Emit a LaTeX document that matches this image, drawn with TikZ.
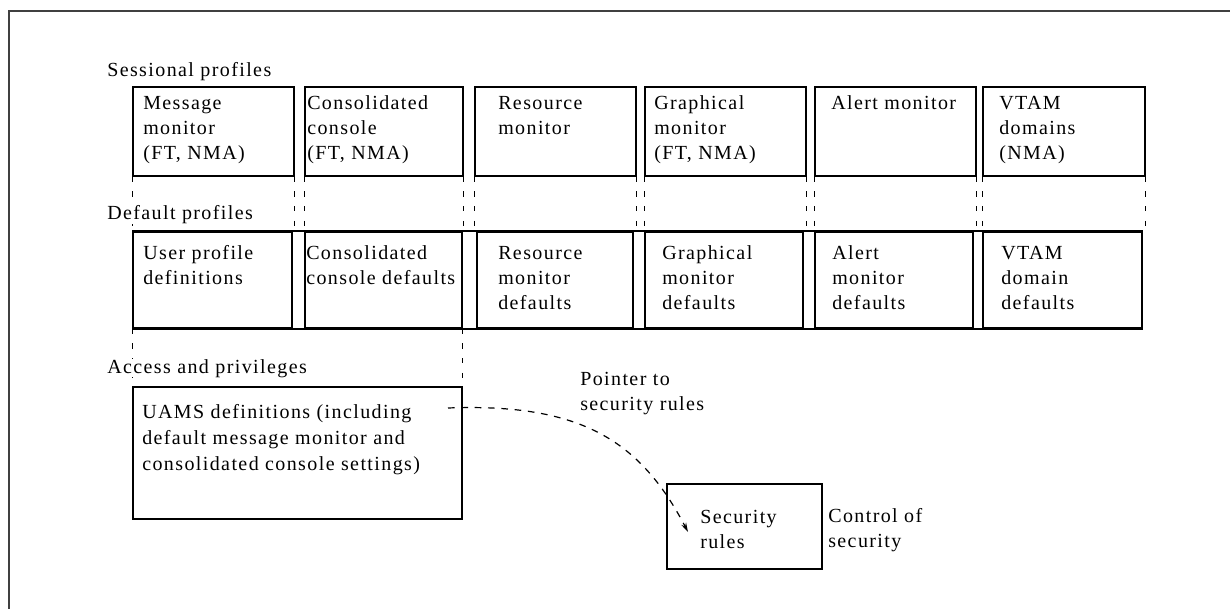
\documentclass[tikz,border=0pt]{standalone}
\usepackage{fontspec}
\setmainfont[LetterSpace=7]{Liberation Serif}
\usetikzlibrary{fit,arrows.meta}
\tikzset{
  box/.style={draw=black, line width=1.2pt, inner sep=0pt},
  txt/.style={inner sep=0pt, anchor=base west, align=left, font=\fontsize{15pt}{18.75pt}\selectfont},
  lbl/.style={txt, fill=white},
  conn/.style={draw=black, line width=0.9pt, dash pattern=on 4pt off 7pt},
  ptr/.style={draw=black, line width=0.9pt, dash pattern=on 5pt off 5pt},
  frame/.style={draw=black!75, line width=1.5pt}
}
\begin{document}
\begin{tikzpicture}[x=0.75pt, y=-0.75pt]
\useasboundingbox (0,0) rectangle (1230,609);
\clip (0,0) rectangle (1230,609);
\fill[white] (0,0) rectangle (1230,609);
\draw[frame] (9,640) -- (9,11) -- (1260,11);

% top row
\node[box, fit={(133,87) (294,176)}] (t1) {};
\node[box, fit={(305,87) (463,176)}] (t2) {};
\node[box, fit={(475,87) (636,176)}] (t3) {};
\node[box, fit={(645,87) (806,176)}] (t4) {};
\node[box, fit={(815,87) (976,176)}] (t5) {};
\node[box, fit={(983,87) (1145,176)}] (t6) {};

% bottom row
\node[box, fit={(133,232) (292,328)}] (b1) {};
\node[box, fit={(305,232) (462,328)}] (b2) {};
\node[box, fit={(477,232) (633,328)}] (b3) {};
\node[box, fit={(645,232) (803,328)}] (b4) {};
\node[box, fit={(815,232) (973,328)}] (b5) {};
\node[box, fit={(983,232) (1142,328)}] (b6) {};
\draw[line width=1.2pt] (b1.north west) -- (b6.north east);
\draw[line width=1.2pt] (b1.south west) -- (b6.south east);

% access boxes
\node[box, fit={(133,387) (462,519)}] (uams) {};
\node[box, fit={(667,484) (822,569)}] (sec) {};

% dashed connectors between rows
\foreach \i in {1,...,6}{
  \draw[conn] (t\i.south west) -- (t\i.south west |- b\i.north);
  \draw[conn] (t\i.south east) -- (t\i.south east |- b\i.north);
}
\draw[conn] (b1.south west) -- (b1.south west |- uams.north);
\draw[conn] (b2.south east) -- (b2.south east |- uams.north);

% row labels
\node[lbl] (lsess) at (107,77) {Sessional profiles};
\node[lbl] (ldef) at (107,220) {Default profiles};
\node[lbl] (lacc) at (107,373) {Access and privileges};

% top row texts (anchor = baseline of the last line)
\node[txt] (t1x) at (143,160) {Message\\monitor\\(FT, NMA)};
\node[txt] (t2x) at (307,160) {Consolidated\\console\\(FT, NMA)};
\node[txt] (t3x) at (498,135) {Resource\\monitor};
\node[txt] (t4x) at (654,160) {Graphical\\monitor\\(FT, NMA)};
\node[txt] (t5x) at (831,110) {Alert monitor};
\node[txt] (t6x) at (999,160) {VTAM\\domains\\(NMA)};

% bottom row texts
\node[txt] (b1x) at (143,285) {User profile\\definitions};
\node[txt] (b2x) at (306,285) {Consolidated\\console defaults};
\node[txt] (b3x) at (498,310) {Resource\\monitor\\defaults};
\node[txt] (b4x) at (662,310) {Graphical\\monitor\\defaults};
\node[txt] (b5x) at (832,310) {Alert\\monitor\\defaults};
\node[txt] (b6x) at (1001,310) {VTAM\\domain\\defaults};

% access texts
\node[txt, font=\fontsize{15pt}{19.5pt}\selectfont] (uamsx) at (142,470) {UAMS definitions (including\\default message monitor and\\consolidated console settings)};
\node[txt] (secx) at (700,548) {Security\\rules};
\node[txt] (ctrl) at (828,547) {Control of\\security};
\node[txt] (ptrx) at (580,410) {Pointer to\\security rules};

% pointer curve
\coordinate (ps) at (448,408);
\coordinate (pe) at (688,532);
\draw[ptr, -{Stealth[length=7pt,width=4pt]}] (ps) .. controls (580,403) and (640,440) .. (pe);
\end{tikzpicture}
\end{document}
